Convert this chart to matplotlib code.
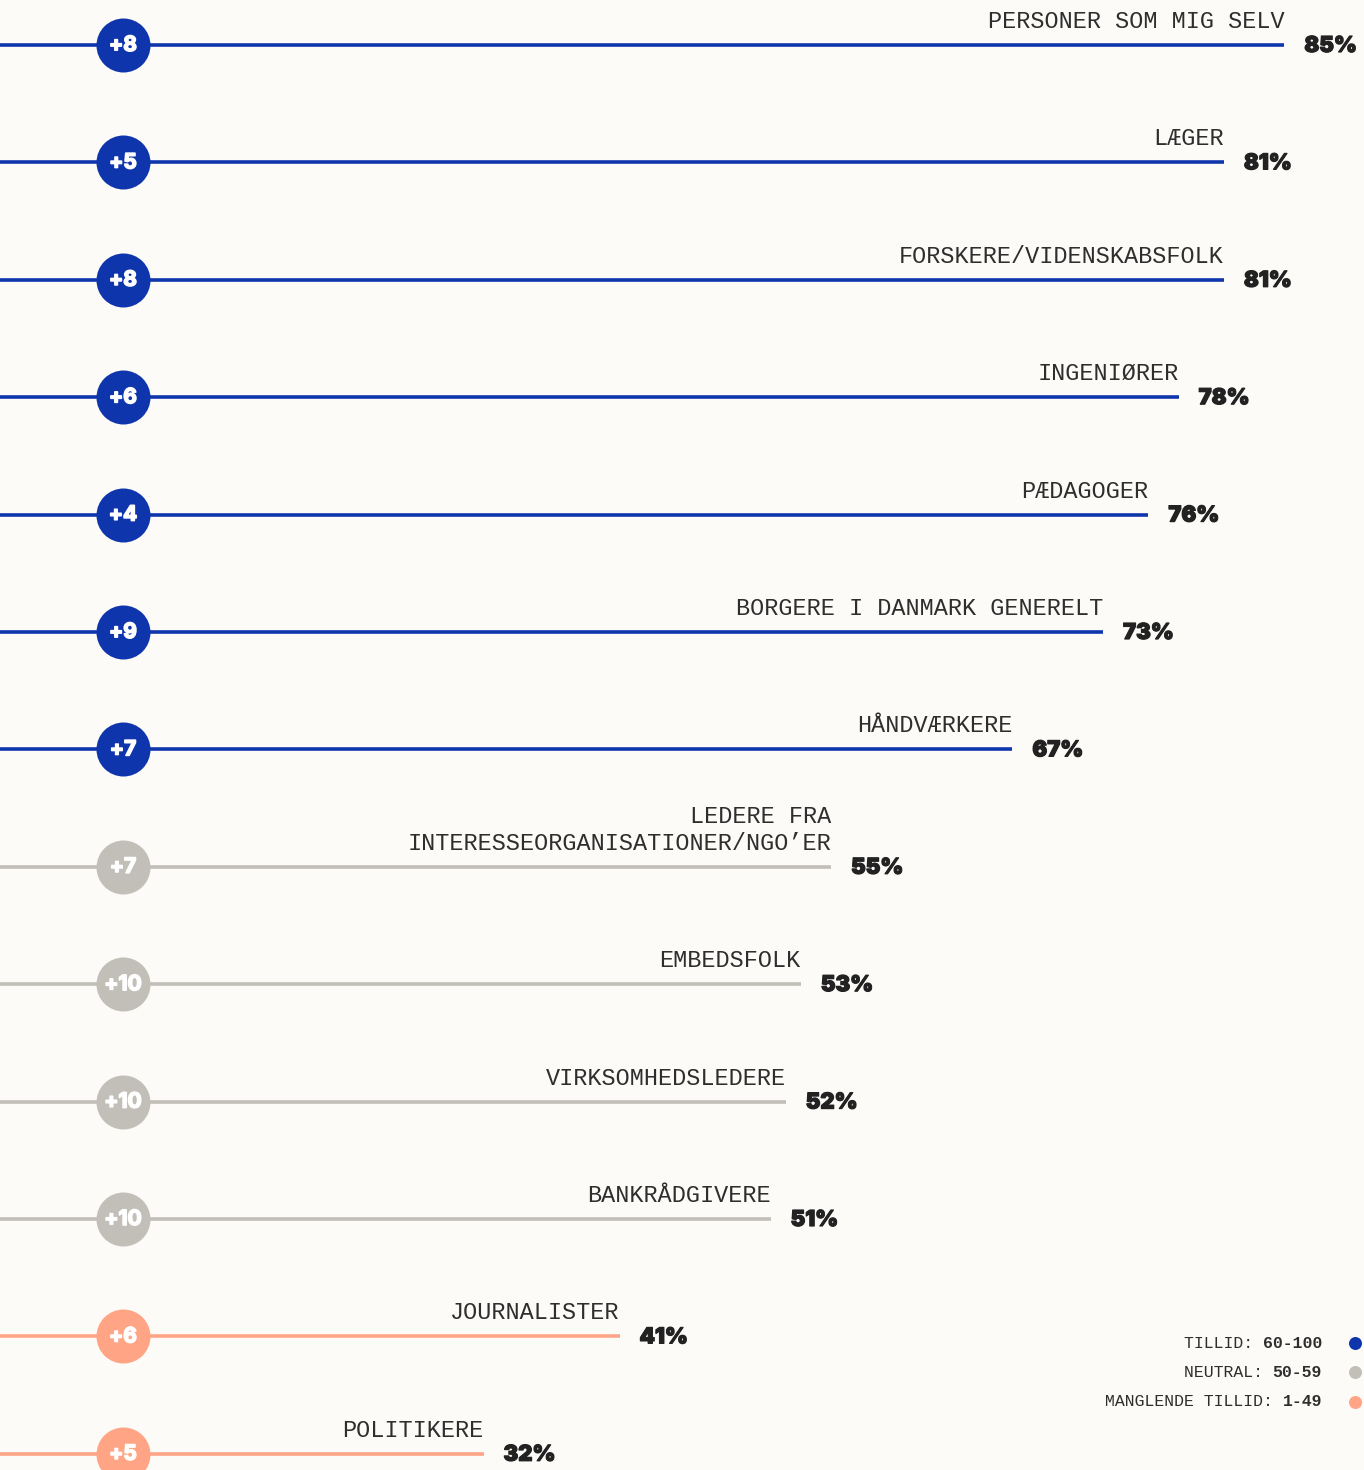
import numpy as np
import matplotlib.pyplot as plt
import matplotlib.patheffects as pe

categories = ["PERSONER SOM MIG SELV", "LÆGER", "FORSKERE/VIDENSKABSFOLK", "INGENIØRER",
              "PÆDAGOGER", "BORGERE I DANMARK GENERELT", "HÅNDVÆRKERE",
              "LEDERE FRA\nINTERESSEORGANISATIONER/NGO\u2019ER", "EMBEDSFOLK",
              "VIRKSOMHEDSLEDERE", "BANKRÅDGIVERE", "JOURNALISTER", "POLITIKERE"]
values = [85, 81, 81, 78, 76, 73, 67, 55, 53, 52, 51, 41, 32]
changes = ["+8", "+5", "+8", "+6", "+4", "+9", "+7", "+7", "+10", "+10", "+10", "+6", "+5"]

legend_names = ["TILLID:", "NEUTRAL:", "MANGLENDE TILLID:"]
legend_ranges = ["60-100", "50-59", "1-49"]

BLUE = "#0f35ad"
GRAY = "#c2bfb8"
SALMON = "#ffa484"
BG = "#fcfbf8"
TXT = "#2e2e2e"

def color_for(v):
    if v >= 60:
        return BLUE
    if v >= 50:
        return GRAY
    return SALMON

# 72 dpi so that points == pixels
fig = plt.figure(figsize=(1364 / 72, 1470 / 72), dpi=72, facecolor=BG)
ax = fig.add_axes([0, 0, 1, 1])
ax.set_facecolor(BG)
px_per_pct = 15.11
row_px = 117.4
ax.set_xlim(0, 1364 / px_per_pct)
ax.set_ylim((1470 - 45) / row_px, -45 / row_px)
ax.axis("off")

mono = "Liberation Mono"
heavy = ["Inter", "DejaVu Sans"]
circle_x = 123 / px_per_pct
bolder_w = [pe.withStroke(linewidth=1.6, foreground="white")]
bolder_k = [pe.withStroke(linewidth=1.2, foreground="#222222")]

for i, (cat, v, ch) in enumerate(zip(categories, values, changes)):
    c = color_for(v)
    ax.plot([0, v], [i, i], color=c, lw=3.6, solid_capstyle="butt", zorder=1)
    ax.scatter([circle_x], [i], s=54 ** 2, color=c, zorder=2, linewidths=0)
    ax.text(circle_x, i, ch, color="white", fontsize=21, fontweight="bold",
            family=heavy, ha="center", va="center", zorder=3, path_effects=bolder_w)
    ax.annotate(cat, (v, i), xytext=(0, 17), textcoords="offset points",
                ha="right", va="baseline", fontsize=23.5, family=mono,
                color=TXT, linespacing=1.2, multialignment="right")
    ax.annotate(f"{v}%", (v, i), xytext=(20, -1), textcoords="offset points",
                ha="left", va="center", fontsize=22, fontweight="black",
                family=heavy, color="#222222", path_effects=bolder_k)

# legend, bottom right
leg_colors = [BLUE, GRAY, SALMON]
leg_fs = 16.5
char_w = 0.6 * leg_fs
for k, (name, rng, c) in enumerate(zip(legend_names, legend_ranges, leg_colors)):
    ypix = 1343 + 29.3 * k
    yd = (ypix - 45) / row_px
    xr = 1322 / px_per_pct
    ax.text(xr, yd, rng, fontsize=leg_fs, family=mono, fontweight="bold",
            ha="right", va="center", color=TXT)
    ax.annotate(name + " ", (xr, yd), xytext=(-char_w * len(rng), 0),
                textcoords="offset points", fontsize=leg_fs, family=mono,
                ha="right", va="center", color=TXT)
    ax.scatter([1355 / px_per_pct], [yd], s=13 ** 2, color=c, linewidths=0)

fig.savefig("out.png", dpi=72, facecolor=BG)
